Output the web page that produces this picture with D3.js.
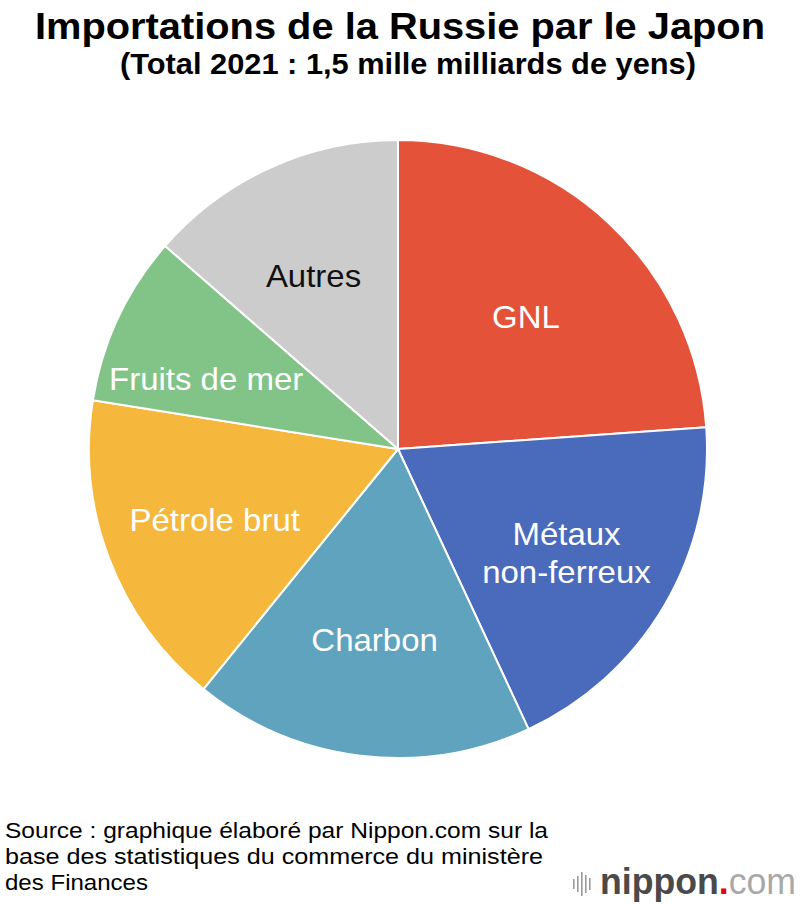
<!DOCTYPE html>
<html><head><meta charset="utf-8">
<script src="https://cdn.jsdelivr.net/npm/d3@7"></script>
<style>
html,body{margin:0;padding:0;background:#fff;}
text{font-family:"Liberation Sans",Arial,Helvetica,sans-serif;}
</style></head>
<body>
<svg id="chart" width="800" height="906"></svg>
<script>
const categories = ["GNL", "Métaux non-ferreux", "Charbon", "Pétrole brut", "Fruits de mer", "Autres"];
const labelLines = [["GNL"], ["Métaux", "non-ferreux"], ["Charbon"], ["Pétrole brut"], ["Fruits de mer"], ["Autres"]];
const shares = [23.9, 19.2, 17.8, 16.7, 8.9, 13.6];
const colors = ["#E4523A", "#4A6ABB", "#5FA3BE", "#F5B83D", "#82C487", "#CCCCCC"];
const labelColors = ["#fff", "#fff", "#fff", "#fff", "#fff", "#111"];
const title = "Importations de la Russie par le Japon";
const subtitle = "(Total 2021 : 1,5 mille milliards de yens)";
const sourceLines = ["Source : graphique élaboré par Nippon.com sur la",
  "base des statistiques du commerce du ministère", "des Finances"];

// layout-only nudges for label placement (pixels)
const labelNudge = {"GNL": [-3, 8], "Métaux non-ferreux": [3, 6], "Fruits de mer": [-18, 11], "Pétrole brut": [-4, 2], "Autres": [-5, 1]};

const svg = d3.select("#chart");
const cx = 398, cy = 449, R = 309;

// Title
svg.append("text").attr("x", 400).attr("y", 39).attr("text-anchor", "middle")
  .attr("font-size", 37).attr("font-weight", "bold").attr("fill", "#000")
  .attr("textLength", 730).attr("lengthAdjust", "spacingAndGlyphs").text(title);
svg.append("text").attr("x", 408).attr("y", 74).attr("text-anchor", "middle")
  .attr("font-size", 29).attr("font-weight", "bold").attr("fill", "#000")
  .attr("textLength", 576).attr("lengthAdjust", "spacingAndGlyphs").text(subtitle);

// Pie
const pie = d3.pie().sort(null).value(d => d.v);
const data = pie(categories.map((c, i) => ({c, v: shares[i], i})));
const arc = d3.arc().innerRadius(0).outerRadius(R);
const labelArc = d3.arc().innerRadius(192).outerRadius(192);
const g = svg.append("g").attr("transform", `translate(${cx},${cy})`);
g.selectAll("path.slice").data(data).join("path").attr("class", "slice")
  .attr("d", arc).attr("fill", d => colors[d.data.i])
  .attr("stroke", "#fff").attr("stroke-width", 2).attr("stroke-linejoin", "round");

const lh = 38;
g.selectAll("g.lab").data(data).join("g").attr("class", "lab")
  .attr("transform", d => {
    const [x, y] = labelArc.centroid(d);
    const nd = labelNudge[d.data.c] || [0, 0];
    return `translate(${x + nd[0]},${y + nd[1]})`;
  })
  .each(function(d) {
    const lines = labelLines[d.data.i];
    const n = lines.length;
    lines.forEach((ln, k) => {
      const t = d3.select(this).append("text")
        .attr("text-anchor", "middle").attr("font-size", 32)
        .attr("fill", labelColors[d.data.i])
        .attr("y", (k - (n - 1) / 2) * lh).attr("dy", "0.36em").text(ln);
      const w = t.node().getComputedTextLength();
      t.attr("textLength", w * 1.03).attr("lengthAdjust", "spacingAndGlyphs");
    });
  });

// Source
const sourceWidths = [543, 538, 143];
sourceLines.forEach((s, k) => {
  svg.append("text").attr("x", 5).attr("y", 838 + k * 26)
    .attr("font-size", 22).attr("fill", "#000")
    .attr("textLength", sourceWidths[k]).attr("lengthAdjust", "spacingAndGlyphs").text(s);
});

// Logo
const logo = svg.append("g");
const barH = [10, 16, 24, 18, 12];
barH.forEach((h, k) => {
  logo.append("rect").attr("x", 573 + k * 4).attr("y", 884 - h / 2).attr("width", 1.6)
    .attr("height", h).attr("fill", "#9a9a9a");
});
const lt = logo.append("text").attr("x", 600).attr("y", 894).attr("font-size", 36);
lt.append("tspan").attr("font-weight", "bold").attr("fill", "#4a4a4a").text("nippon");
lt.append("tspan").attr("font-weight", "bold").attr("fill", "#E60012").text(".");
lt.append("tspan").attr("fill", "#a8a8a8").attr("font-weight", "300").text("com");
lt.attr("textLength", 196).attr("lengthAdjust", "spacingAndGlyphs");
</script>
</body></html>
